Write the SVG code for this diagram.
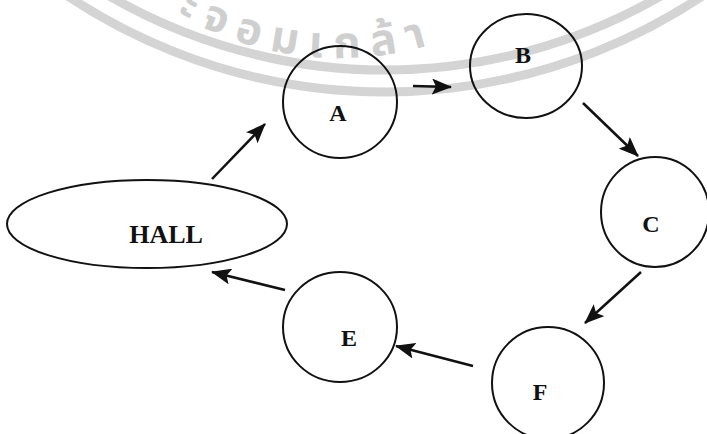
<svg xmlns="http://www.w3.org/2000/svg" width="707" height="434" viewBox="0 0 707 434">
<style>
.node{fill:none;stroke:#111;stroke-width:2}
.lbl{font-family:"Liberation Serif","Times New Roman",serif;font-weight:bold;font-size:24px;fill:#111;text-anchor:middle}
.edge{fill:none;stroke:#111;stroke-width:2.5;marker-end:url(#ah)}
.band{fill:none;stroke:#d4d4d4;stroke-width:9}
.wm{font-family:"Noto Sans Thai","Noto Sans","DejaVu Sans",sans-serif;font-size:44px;font-weight:bold;fill:#cfcfcf;letter-spacing:11px}
</style>
<defs>
<marker id="ah" markerUnits="userSpaceOnUse" markerWidth="20" markerHeight="16" refX="19" refY="8" orient="auto">
<path d="M0,0 L20,8 L0,16 L4,8 z" fill="#111"/>
</marker>
<path id="wmarc" d="M113.7,-35.7 A320,320 0 0 0 566.3,-35.7"/>
</defs>
<rect width="707" height="434" fill="#fff"/>
<g id="watermark">
<circle class="band" cx="385" cy="-480" r="550"/>
<circle class="band" cx="385" cy="-480" r="572"/>
<text class="wm"><textPath href="#wmarc" startOffset="80">ะจอมเกล้า</textPath></text>
</g>
<g id="connectors">
<line class="edge" x1="212" y1="179" x2="265" y2="124"/>
<line class="edge" x1="413" y1="86" x2="451" y2="87"/>
<line class="edge" x1="583" y1="103" x2="638" y2="156"/>
<line class="edge" x1="641" y1="272" x2="585" y2="323"/>
<line class="edge" x1="473" y1="366" x2="396" y2="346"/>
<line class="edge" x1="285" y1="290" x2="212" y2="272"/>
</g>
<g id="node-hall">
<ellipse class="node" cx="147" cy="224" rx="140" ry="44"/>
<text class="lbl" x="166" y="243" style="font-size:26px">HALL</text>
</g>
<g id="node-a">
<ellipse class="node" cx="340" cy="102" rx="57" ry="56"/>
<text class="lbl" x="338" y="121">A</text>
</g>
<g id="node-b">
<ellipse class="node" cx="526" cy="66" rx="56" ry="52"/>
<text class="lbl" x="523" y="63">B</text>
</g>
<g id="node-c">
<ellipse class="node" cx="655" cy="212" rx="54" ry="55"/>
<text class="lbl" x="651" y="232">C</text>
</g>
<g id="node-e">
<ellipse class="node" cx="340" cy="327" rx="57" ry="55"/>
<text class="lbl" x="349" y="346">E</text>
</g>
<g id="node-f">
<ellipse class="node" cx="548" cy="383" rx="56" ry="56"/>
<text class="lbl" x="540" y="400">F</text>
</g>
</svg>
